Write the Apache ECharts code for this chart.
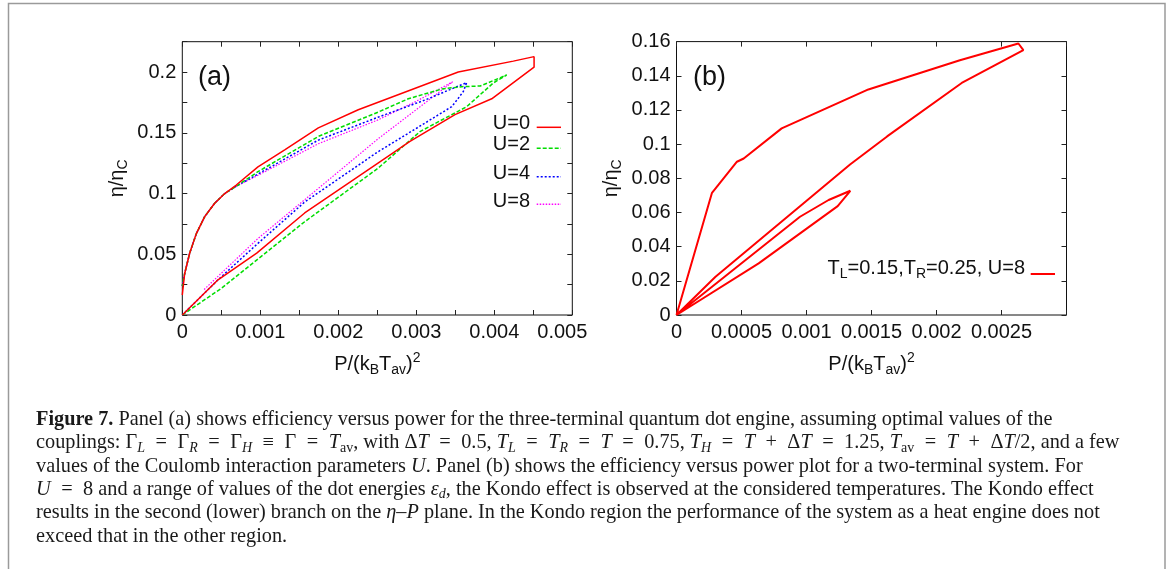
<!DOCTYPE html>
<html>
<head>
<meta charset="utf-8">
<title>Figure 7</title>
<script src="https://cdn.jsdelivr.net/npm/echarts@6/dist/echarts.min.js"></script>
<style>
  html, body { margin: 0; padding: 0; background: #fff; }
  #chart { width: 1171px; height: 569px; }
</style>
</head>
<body>
<div id="chart"></div>
<script>
// ---- panel (a): efficiency vs power, three-terminal engine ----
// U = 0 : lower branch from origin to tip, then upper branch back
const powerU0 = [0, 0.000458, 0.000954, 0.001569, 0.002509, 0.002919, 0.003496, 0.003967, 0.00451,
  0.00451, 0.004244, 0.003538, 0.002919, 0.002256, 0.001744, 0.001313, 0.00097, 0.000692, 0.000544,
  0.000415, 0.000287, 0.00018, 0.000095, 0.00003, 0];
const etaU0 = [0, 0.029, 0.051, 0.084, 0.125, 0.143, 0.165, 0.178, 0.204,
  0.2127, 0.209, 0.2, 0.185, 0.169, 0.154, 0.136, 0.122, 0.107, 0.1,
  0.092, 0.081, 0.067, 0.051, 0.034, 0.0165];

const powerU2 = [0, 0.000502, 0.001569, 0.002509, 0.003047, 0.003646, 0.003987, 0.004159,
  0.00382, 0.003583, 0.003325, 0.002897, 0.002509, 0.001744, 0.00097, 0.000692, 0.000544,
  0.000415, 0.000287, 0.00018, 0.000095, 0.00003, 0];
const etaU2 = [0, 0.022, 0.0768, 0.1208, 0.151, 0.1715, 0.191, 0.1976,
  0.1885, 0.188, 0.186, 0.178, 0.167, 0.147, 0.118, 0.106, 0.1,
  0.092, 0.081, 0.067, 0.051, 0.034, 0.024];

const powerU4 = [0, 0.000458, 0.00097, 0.001569, 0.0025, 0.003454, 0.003538, 0.003603, 0.003646,
  0.003112, 0.002509, 0.001744, 0.00097, 0.000692, 0.000544, 0.000415, 0.000287, 0.00018,
  0.000095, 0.00003, 0];
const etaU4 = [0, 0.029, 0.059, 0.093, 0.134, 0.1715, 0.1784, 0.184, 0.1913,
  0.177, 0.1628, 0.144, 0.116, 0.106, 0.1, 0.092, 0.081, 0.067,
  0.051, 0.034, 0.024];

const powerU8 = [0.00028, 0.00097, 0.002509, 0.003467, 0.003, 0.002509, 0.001744, 0.00097,
  0.000692, 0.000544, 0.000415, 0.000287, 0.00018, 0.000095, 0.00003, 0];
const etaU8 = [0.021, 0.063, 0.145, 0.192, 0.176, 0.1606, 0.141, 0.115,
  0.106, 0.1, 0.092, 0.081, 0.067, 0.051, 0.034, 0.024];

const legendA = ['U=0', 'U=2', 'U=4', 'U=8'];

// ---- panel (b): two-terminal system, TL=0.15, TR=0.25, U=8 ----
const powerB = [0, 0.000273, 0.000465, 0.000517, 0.000809, 0.001476, 0.00218, 0.00263, 0.002668,
  0.002194, 0.00162, 0.001335, 0.0003, 0,
  0.00095, 0.00117, 0.001337, 0.00124, 0.000632, 0];
const etaB = [0, 0.0715, 0.0897, 0.0916, 0.1092, 0.132, 0.1491, 0.1589, 0.155,
  0.1358, 0.1045, 0.0881, 0.0224, 0,
  0.0575, 0.0673, 0.0727, 0.0637, 0.0302, 0];

// axis ranges / ticks
const xTicksA = { min: 0, max: 0.005, step: 0.0005, labelStep: 0.001 };
const yTicksA = { min: 0, max: 0.225, step: 0.025, labelStep: 0.05 };
const xTicksB = { min: 0, max: 0.003, step: 0.0005, lastLabel: 0.0025 };
const yTicksB = { min: 0, max: 0.16, step: 0.02 };

const captionLines = [
  '{b|Figure 7.} Panel (a) shows efficiency versus power for the three-terminal quantum dot engine, assuming optimal values of the',
  'couplings: Γ{s|L}{o|=}Γ{s|R}{o|=}Γ{s|H}{o|≡}Γ{o|=}{i|T}{r|av}, with Δ{i|T}{o|=}0.5, {i|T}{s|L}{o|=}{i|T}{s|R}{o|=}{i|T}{o|=}0.75, {i|T}{s|H}{o|=}{i|T}{o|+}Δ{i|T}{o|=}1.25, {i|T}{r|av}{o|=}{i|T}{o|+}Δ{i|T}/2, and a few',
  'values of the Coulomb interaction parameters {i|U}. Panel (b) shows the efficiency versus power plot for a two-terminal system. For',
  '{i|U}{o|=}8 and a range of values of the dot energies {i|ε}{s|d}, the Kondo effect is observed at the considered temperatures. The Kondo effect',
  'results in the second (lower) branch on the {i|η}–{i|P} plane. In the Kondo region the performance of the system as a heat engine does not',
  'exceed that in the other region.'
];

const zip = (xs, ys) => xs.map((x, i) => [x, ys[i]]);
const fmt = v => String(parseFloat(v.toFixed(6)));
const isMult = (v, s) => Math.abs(v / s - Math.round(v / s)) < 1e-6;

const sans = '"Liberation Sans", Arial, Helvetica, sans-serif';
const serif = '"Liberation Serif", "Times New Roman", serif';
const ink = '#111';
const capSize = 20.3;

const nameRich = {
  n: { fontFamily: sans, fontSize: 20, lineHeight: 26, color: ink },
  s: { fontSize: 14, lineHeight: 14, verticalAlign: 'bottom', fontFamily: sans, color: ink },
  p: { fontSize: 14, lineHeight: 14, verticalAlign: 'top', fontFamily: sans, color: ink }
};
const nameStyle = { fontFamily: sans, fontSize: 20, lineHeight: 26, color: ink, rich: nameRich };

// ticks point into the plot (gnuplot style, mirrored on all four sides)
function valueAxis(gridIndex, pos, t, labelFn, extra) {
  return Object.assign({
    type: 'value', gridIndex: gridIndex, position: pos,
    min: t.min, max: t.max, interval: t.step,
    axisLine: { show: false, onZero: false },
    axisTick: { show: true, inside: false, length: -5, lineStyle: { color: '#222', width: 1 } },
    splitLine: { show: false },
    axisLabel: labelFn ? {
      show: true, formatter: labelFn, fontFamily: sans, fontSize: 20, color: ink,
      margin: (pos === 'bottom') ? 7 : 6,
      rich: { last: { fontFamily: sans, fontSize: 20, color: ink, padding: [0, 20, 0, 0] } }
    } : { show: false }
  }, extra || {});
}

const xName = '{n|P/(k}{s|B}{n|T}{s|av}{n|)}{p|2}';
const yName = 'η/η{s|C}';

const chart = echarts.init(document.getElementById('chart'), null, { renderer: 'canvas' });

const captionGraphics = captionLines.map((line, i) => ({
  type: 'text',
  x: 36,
  y: 419.5 + i * 23.35,
  silent: true,
  style: {
    text: line,
    fill: '#1a1a1a',
    font: capSize + 'px ' + serif,
    fontFamily: serif,
    fontSize: capSize,
    lineHeight: 24,
    textAlign: 'left', align: 'left',
    textVerticalAlign: 'middle', verticalAlign: 'middle',
    rich: {
      b: { fontWeight: 'bold', fontFamily: serif, fontSize: capSize, lineHeight: 24 },
      i: { fontStyle: 'italic', fontFamily: serif, fontSize: capSize, lineHeight: 24 },
      o: { fontFamily: serif, fontSize: capSize, padding: [0, 10.5, 0, 10.5] },
      s: { fontStyle: 'italic', fontFamily: serif, fontSize: 14, lineHeight: 14, verticalAlign: 'bottom' },
      r: { fontFamily: serif, fontSize: 14, lineHeight: 14, verticalAlign: 'bottom' }
    }
  }
}));

const legendColors = ['#ff0000', '#00dd00', '#0000ff', '#ff00ff'];
const legendDash = ['solid', [4, 2], [2, 2], [1.5, 1.5]];
const legendTextY = [123.5, 144.5, 173, 201.5];
const legendLineY = [127.3, 148.3, 176.7, 204.3];

const legendGraphics = [];
legendA.forEach((lab, i) => {
  legendGraphics.push({
    type: 'text', x: 530, y: legendTextY[i], silent: true,
    style: { text: lab, fill: ink, font: '20px ' + sans, textAlign: 'right', align: 'right',
      textVerticalAlign: 'middle', verticalAlign: 'middle' }
  });
  legendGraphics.push({
    type: 'line', silent: true,
    shape: { x1: 536.7, y1: legendLineY[i], x2: 561, y2: legendLineY[i] },
    style: { stroke: legendColors[i], lineWidth: 1.5, lineDash: legendDash[i] === 'solid' ? null : legendDash[i] }
  });
});

chart.setOption({
  animation: false,
  backgroundColor: '#fff',
  grid: [
    { left: 182.3, top: 41.7, width: 390, height: 273.3, show: true, borderColor: '#111', borderWidth: 1,
      backgroundColor: 'transparent', containLabel: false, outerBoundsMode: 'none' },
    { left: 676.5, top: 41.6, width: 390, height: 273.4, show: true, borderColor: '#111', borderWidth: 1,
      backgroundColor: 'transparent', containLabel: false, outerBoundsMode: 'none' }
  ],
  xAxis: [
    valueAxis(0, 'bottom', xTicksA, v => {
      if (!isMult(v, xTicksA.labelStep)) return '';
      if (Math.abs(v - xTicksA.max) < 1e-9) return '{last|' + fmt(v) + '}';
      return fmt(v);
    }, { name: xName, nameLocation: 'middle', nameGap: 36, nameTextStyle: nameStyle }),
    valueAxis(0, 'top', xTicksA, null),
    valueAxis(1, 'bottom', xTicksB, v => (v > xTicksB.lastLabel + 1e-9 ? '' : fmt(v)),
      { name: xName, nameLocation: 'middle', nameGap: 36, nameTextStyle: nameStyle }),
    valueAxis(1, 'top', xTicksB, null)
  ],
  yAxis: [
    valueAxis(0, 'left', yTicksA, v => (isMult(v, yTicksA.labelStep) ? fmt(v) : ''),
      { name: yName, nameLocation: 'middle', nameGap: 52, nameTextStyle: nameStyle }),
    valueAxis(0, 'right', yTicksA, null),
    valueAxis(1, 'left', yTicksB, v => fmt(v),
      { name: yName, nameLocation: 'middle', nameGap: 52, nameTextStyle: nameStyle }),
    valueAxis(1, 'right', yTicksB, null)
  ],
  series: [
    { name: legendA[0], type: 'line', xAxisIndex: 0, yAxisIndex: 0, data: zip(powerU0, etaU0),
      showSymbol: false, symbol: 'none', lineStyle: { color: legendColors[0], width: 1.5 }, z: 5 },
    { name: legendA[1], type: 'line', xAxisIndex: 0, yAxisIndex: 0, data: zip(powerU2, etaU2),
      showSymbol: false, symbol: 'none', lineStyle: { color: legendColors[1], width: 1.5, type: legendDash[1] }, z: 4 },
    { name: legendA[2], type: 'line', xAxisIndex: 0, yAxisIndex: 0, data: zip(powerU4, etaU4),
      showSymbol: false, symbol: 'none', lineStyle: { color: legendColors[2], width: 1.5, type: legendDash[2] }, z: 3 },
    { name: legendA[3], type: 'line', xAxisIndex: 0, yAxisIndex: 0, data: zip(powerU8, etaU8),
      showSymbol: false, symbol: 'none', lineStyle: { color: legendColors[3], width: 1.2, type: legendDash[3] }, z: 2 },
    { name: 'TL=0.15,TR=0.25, U=8', type: 'line', xAxisIndex: 2, yAxisIndex: 2, data: zip(powerB, etaB),
      showSymbol: false, symbol: 'none', lineStyle: { color: '#ff0000', width: 2 } }
  ],
  graphic: [
    { type: 'rect', silent: true, shape: { x: 8.5, y: 3.5, width: 1156.5, height: 700 },
      style: { fill: 'none', stroke: '#9a9a9a', lineWidth: 1.5 } },
    { type: 'text', x: 198, y: 78, silent: true,
      style: { text: '(a)', fill: ink, font: '27px ' + sans, textAlign: 'left', align: 'left',
        textVerticalAlign: 'middle', verticalAlign: 'middle' } },
    { type: 'text', x: 693, y: 78, silent: true,
      style: { text: '(b)', fill: ink, font: '27px ' + sans, textAlign: 'left', align: 'left',
        textVerticalAlign: 'middle', verticalAlign: 'middle' } },
    { type: 'text', x: 1025, y: 268.5, silent: true,
      style: { text: 'T{s|L}=0.15,T{s|R}=0.25, U=8', fill: ink, font: '20px ' + sans,
        fontFamily: sans, fontSize: 20, lineHeight: 26,
        textAlign: 'right', align: 'right', textVerticalAlign: 'middle', verticalAlign: 'middle',
        rich: { s: { fontFamily: sans, fontSize: 14, lineHeight: 14, verticalAlign: 'bottom' } } } },
    { type: 'line', silent: true, shape: { x1: 1030.7, y1: 274, x2: 1055, y2: 274 },
      style: { stroke: '#ff0000', lineWidth: 2 } }
  ].concat(legendGraphics, captionGraphics)
});
</script>
</body>
</html>
